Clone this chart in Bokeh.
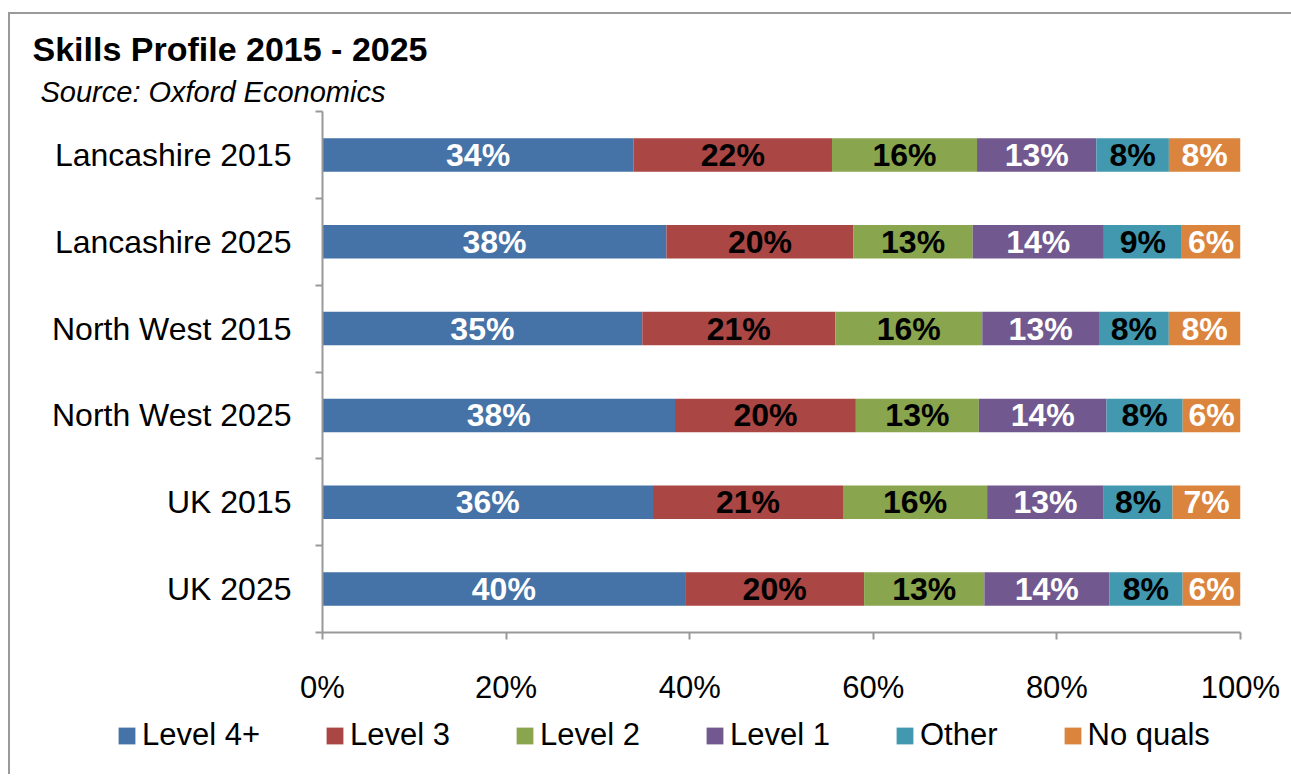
from bokeh.plotting import figure
from bokeh.layouts import column
from bokeh.models import (ColumnDataSource, Range1d, FixedTicker, NumeralTickFormatter,
                          Title, Legend, LegendItem)
from bokeh.core.properties import value
from bokeh.embed import file_html
from bokeh.resources import INLINE

# ---------------- data ----------------
categories = ["Lancashire 2015", "Lancashire 2025", "North West 2015",
              "North West 2025", "UK 2015", "UK 2025"]
series = ["Level 4+", "Level 3", "Level 2", "Level 1", "Other", "No quals"]
level4 = [33.9, 37.5, 34.8, 38.4, 36.0, 39.5]
level3 = [21.6, 20.4, 21.0, 19.7, 20.7, 19.5]
level2 = [15.8, 13.0, 16.0, 13.4, 15.7, 13.1]
level1 = [13.0, 14.3, 12.7, 13.9, 12.7, 13.6]
other = [7.9, 8.5, 7.6, 8.3, 7.5, 8.0]
noquals = [7.8, 6.4, 7.8, 6.3, 7.4, 6.3]
x_ticks = [0, 0.2, 0.4, 0.6, 0.8, 1.0]

colors = ["#4572A7", "#AA4643", "#89A54E", "#71588F", "#4198AF", "#DB843D"]
label_colors = ["white", "black", "black", "white", "black", "white"]
FONT = "Liberation Sans"
AXIS_COLOR = "#999999"

values = [level4, level3, level2, level1, other, noquals]
keys = ["s%d" % i for i in range(len(series))]
n = len(categories)
ypos = [n - 0.5 - i for i in range(n)]
totals = [sum(v[i] for v in values) for i in range(n)]

data = {"y": ypos}
for k, v in zip(keys, values):
    data[k] = [v[i] / totals[i] for i in range(n)]
source = ColumnDataSource(data)

W = 1281
p = figure(width=W, height=700, output_backend="svg", toolbar_location=None,
           x_range=Range1d(0, 1), y_range=Range1d(0, n), title_location=None,
           min_border_left=312, min_border_right=51, min_border_top=97,
           min_border_bottom=82)
p.outline_line_color = None
p.xgrid.visible = False
p.ygrid.visible = False
p.background_fill_color = "white"
p.border_fill_color = "white"

renderers = p.hbar_stack(keys, y="y", height=0.385, color=colors, line_color=None,
                         source=source)

# segment labels
lx, ly, lt, lc = [], [], [], []
for i in range(n):
    cum = 0.0
    for j, v in enumerate(values):
        frac = v[i] / totals[i]
        lx.append(cum + frac / 2)
        ly.append(ypos[i])
        lt.append("%d%%" % int(v[i] + 0.5))
        lc.append(label_colors[j])
        cum += frac
lsrc = ColumnDataSource(dict(x=lx, y=ly, t=lt, c=lc))
p.text(x="x", y="y", text="t", text_color="c", source=lsrc,
       text_font=value(FONT), text_font_style="bold", text_font_size="32px",
       text_align="center", text_baseline="middle")

# x axis
p.xaxis.ticker = FixedTicker(ticks=x_ticks, minor_ticks=[])
p.xaxis.formatter = NumeralTickFormatter(format="0%")
p.xaxis.axis_line_color = AXIS_COLOR
p.xaxis.axis_line_width = 2
p.xaxis.major_tick_line_color = AXIS_COLOR
p.xaxis.major_tick_line_width = 2
p.xaxis.major_tick_out = 7
p.xaxis.major_tick_in = 0
p.xaxis.minor_tick_line_color = None
p.xaxis.major_label_text_font = FONT
p.xaxis.major_label_text_font_size = "31px"
p.xaxis.major_label_text_color = "black"
p.xaxis.major_label_standoff = 30

# y axis
p.yaxis.ticker = FixedTicker(ticks=ypos, minor_ticks=list(range(n + 1)))
p.yaxis.major_label_overrides = {y: c for y, c in zip(ypos, categories)}
p.yaxis.axis_line_color = AXIS_COLOR
p.yaxis.axis_line_width = 2
p.yaxis.major_tick_line_color = None
p.yaxis.major_tick_out = 0
p.yaxis.major_tick_in = 0
p.yaxis.minor_tick_line_color = AXIS_COLOR
p.yaxis.minor_tick_line_width = 2
p.yaxis.minor_tick_out = 7
p.yaxis.minor_tick_in = 0
p.yaxis.major_label_text_font = FONT
p.yaxis.major_label_text_font_size = "32px"
p.yaxis.major_label_text_color = "black"
p.yaxis.major_label_standoff = 24

# titles (subtitle first = closest to the plot)
p.add_layout(Title(text="Source: Oxford Economics", text_font=FONT,
                   text_font_style="italic", text_font_size="29px",
                   text_color="black", align="left", offset=-282, standoff=7), "above")
p.add_layout(Title(text="Skills Profile 2015  - 2025", text_font=FONT,
                   text_font_style="bold", text_font_size="34px",
                   text_color="black", align="left", offset=-290, standoff=6), "above")

# legend strip (separate figure so the legend can sit left of the plot frame)
p2 = figure(width=W, height=60, output_backend="svg", toolbar_location=None,
            x_range=Range1d(0, 1), y_range=Range1d(100, 101), title_location=None,
            x_axis_location=None, y_axis_location=None, min_border=0)
p2.frame_align = False
p2.outline_line_color = None
p2.xgrid.visible = False
p2.ygrid.visible = False
proxies = p2.hbar_stack(keys, y="y", height=0.385, color=colors, line_color=None,
                        source=source)
legend = Legend(items=[LegendItem(label=s, renderers=[r]) for s, r in zip(series, proxies)],
                orientation="horizontal", location=(106, 21))
legend.label_text_font = FONT
legend.label_text_font_size = "31px"
legend.label_text_color = "black"
legend.glyph_width = 21
legend.glyph_height = 21
legend.label_standoff = 5
legend.spacing = 64
legend.padding = 0
legend.margin = 0
legend.border_line_color = None
legend.background_fill_alpha = 0
p2.add_layout(legend, "center")

layout = column(p, p2, spacing=0,
                styles={"border-top": "2px solid #9a9a9a", "border-left": "2px solid #9a9a9a",
                        "margin-top": "12px", "margin-left": "8px"})

open("out.html", "w").write(file_html(layout, INLINE))
